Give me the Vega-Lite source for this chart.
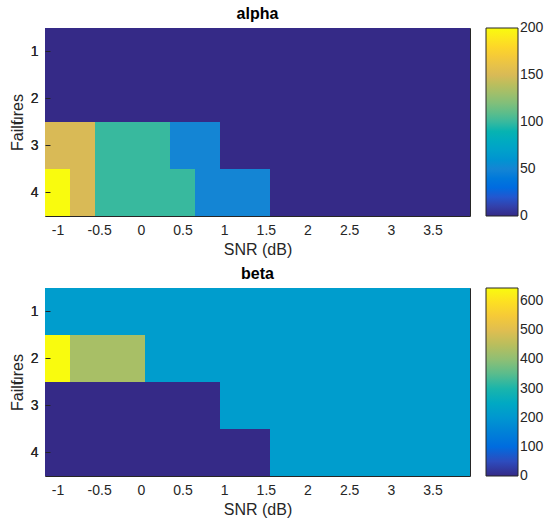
{
  "$schema": "https://vega.github.io/schema/vega-lite/v6.json",
  "padding": {"left": 8, "top": 5, "right": 5, "bottom": 5},
  "background": "white",
  "datasets": {
    "cells": [
      {"s": -1.0, "f": 1, "alpha": 0, "beta": 215}, {"s": -0.7, "f": 1, "alpha": 0, "beta": 215}, {"s": -0.4, "f": 1, "alpha": 0, "beta": 215}, {"s": -0.1, "f": 1, "alpha": 0, "beta": 215},
      {"s": 0.2, "f": 1, "alpha": 0, "beta": 215}, {"s": 0.5, "f": 1, "alpha": 0, "beta": 215}, {"s": 0.8, "f": 1, "alpha": 0, "beta": 215}, {"s": 1.1, "f": 1, "alpha": 0, "beta": 215},
      {"s": 1.4, "f": 1, "alpha": 0, "beta": 215}, {"s": 1.7, "f": 1, "alpha": 0, "beta": 215}, {"s": 2.0, "f": 1, "alpha": 0, "beta": 215}, {"s": 2.3, "f": 1, "alpha": 0, "beta": 215},
      {"s": 2.6, "f": 1, "alpha": 0, "beta": 215}, {"s": 2.9, "f": 1, "alpha": 0, "beta": 215}, {"s": 3.2, "f": 1, "alpha": 0, "beta": 215}, {"s": 3.5, "f": 1, "alpha": 0, "beta": 215},
      {"s": 3.8, "f": 1, "alpha": 0, "beta": 215},
      {"s": -1.0, "f": 2, "alpha": 0, "beta": 645}, {"s": -0.7, "f": 2, "alpha": 0, "beta": 430}, {"s": -0.4, "f": 2, "alpha": 0, "beta": 430}, {"s": -0.1, "f": 2, "alpha": 0, "beta": 430},
      {"s": 0.2, "f": 2, "alpha": 0, "beta": 215}, {"s": 0.5, "f": 2, "alpha": 0, "beta": 215}, {"s": 0.8, "f": 2, "alpha": 0, "beta": 215}, {"s": 1.1, "f": 2, "alpha": 0, "beta": 215},
      {"s": 1.4, "f": 2, "alpha": 0, "beta": 215}, {"s": 1.7, "f": 2, "alpha": 0, "beta": 215}, {"s": 2.0, "f": 2, "alpha": 0, "beta": 215}, {"s": 2.3, "f": 2, "alpha": 0, "beta": 215},
      {"s": 2.6, "f": 2, "alpha": 0, "beta": 215}, {"s": 2.9, "f": 2, "alpha": 0, "beta": 215}, {"s": 3.2, "f": 2, "alpha": 0, "beta": 215}, {"s": 3.5, "f": 2, "alpha": 0, "beta": 215},
      {"s": 3.8, "f": 2, "alpha": 0, "beta": 215},
      {"s": -1.0, "f": 3, "alpha": 150, "beta": 0}, {"s": -0.7, "f": 3, "alpha": 150, "beta": 0}, {"s": -0.4, "f": 3, "alpha": 100, "beta": 0}, {"s": -0.1, "f": 3, "alpha": 100, "beta": 0},
      {"s": 0.2, "f": 3, "alpha": 100, "beta": 0}, {"s": 0.5, "f": 3, "alpha": 50, "beta": 0}, {"s": 0.8, "f": 3, "alpha": 50, "beta": 0}, {"s": 1.1, "f": 3, "alpha": 0, "beta": 215},
      {"s": 1.4, "f": 3, "alpha": 0, "beta": 215}, {"s": 1.7, "f": 3, "alpha": 0, "beta": 215}, {"s": 2.0, "f": 3, "alpha": 0, "beta": 215}, {"s": 2.3, "f": 3, "alpha": 0, "beta": 215},
      {"s": 2.6, "f": 3, "alpha": 0, "beta": 215}, {"s": 2.9, "f": 3, "alpha": 0, "beta": 215}, {"s": 3.2, "f": 3, "alpha": 0, "beta": 215}, {"s": 3.5, "f": 3, "alpha": 0, "beta": 215},
      {"s": 3.8, "f": 3, "alpha": 0, "beta": 215},
      {"s": -1.0, "f": 4, "alpha": 200, "beta": 0}, {"s": -0.7, "f": 4, "alpha": 150, "beta": 0}, {"s": -0.4, "f": 4, "alpha": 100, "beta": 0}, {"s": -0.1, "f": 4, "alpha": 100, "beta": 0},
      {"s": 0.2, "f": 4, "alpha": 100, "beta": 0}, {"s": 0.5, "f": 4, "alpha": 100, "beta": 0}, {"s": 0.8, "f": 4, "alpha": 50, "beta": 0}, {"s": 1.1, "f": 4, "alpha": 50, "beta": 0},
      {"s": 1.4, "f": 4, "alpha": 50, "beta": 0}, {"s": 1.7, "f": 4, "alpha": 0, "beta": 215}, {"s": 2.0, "f": 4, "alpha": 0, "beta": 215}, {"s": 2.3, "f": 4, "alpha": 0, "beta": 215},
      {"s": 2.6, "f": 4, "alpha": 0, "beta": 215}, {"s": 2.9, "f": 4, "alpha": 0, "beta": 215}, {"s": 3.2, "f": 4, "alpha": 0, "beta": 215}, {"s": 3.5, "f": 4, "alpha": 0, "beta": 215},
      {"s": 3.8, "f": 4, "alpha": 0, "beta": 215}
    ]
  },
  "vconcat": [
    {
      "title": {"text": "alpha"},
      "width": 425,
      "height": 188,
      "data": {"name": "cells"},
      "layer": [
        {
          "mark": {"type": "rect"},
          "encoding": {
            "x": {"field": "s", "type": "ordinal", "axis": null, "scale": {"paddingInner": 0, "paddingOuter": 0}},
            "y": {"field": "f", "type": "ordinal", "title": "Failures", "scale": {"paddingInner": 0, "paddingOuter": 0}, "axis": {"orient": "left"}},
            "color": {"field": "alpha", "type": "quantitative", "title": null,
              "scale": {"domain": [0, 25, 50, 75, 100, 125, 150, 175, 200], "range": ["#352a87", "#0363e1", "#1485d4", "#06a7c6", "#38b99e", "#92bf73", "#d9ba56", "#fcce2e", "#f9fb0e"]},
              "legend": {"values": [0, 50, 100, 150, 200], "encode": {"labels": {"update": {"baseline": {"value": "middle"}}}}}}
          }
        },
        {
          "mark": {"type": "point", "opacity": 0},
          "encoding": {
            "x": {"field": "s", "type": "quantitative", "title": "SNR (dB)", "scale": {"domain": [-1.15, 3.95], "nice": false, "zero": false},
              "axis": {"orient": "bottom", "values": [-1, -0.5, 0, 0.5, 1, 1.5, 2, 2.5, 3, 3.5], "labelExpr": "toString(datum.value)"}},
            "y": {"field": "f", "type": "ordinal", "axis": {"orient": "right", "labels": false, "title": null}}
          }
        },
        {
          "mark": {"type": "point", "opacity": 0},
          "encoding": {
            "x": {"field": "s", "type": "quantitative", "scale": {"domain": [-1.15, 3.95], "nice": false, "zero": false},
              "axis": {"orient": "top", "values": [-1, -0.5, 0, 0.5, 1, 1.5, 2, 2.5, 3, 3.5], "labels": false, "title": null}},
            "y": {"field": "f", "type": "ordinal"}
          }
        }
      ],
      "resolve": {"scale": {"x": "independent"}, "axis": {"x": "independent", "y": "independent"}}
    },
    {
      "title": {"text": "beta"},
      "width": 425,
      "height": 188,
      "data": {"name": "cells"},
      "layer": [
        {
          "mark": {"type": "rect"},
          "encoding": {
            "x": {"field": "s", "type": "ordinal", "axis": null, "scale": {"paddingInner": 0, "paddingOuter": 0}},
            "y": {"field": "f", "type": "ordinal", "title": "Failures", "scale": {"paddingInner": 0, "paddingOuter": 0}, "axis": {"orient": "left"}},
            "color": {"field": "beta", "type": "quantitative", "title": null,
              "scale": {"domain": [0, 80.625, 161.25, 241.875, 322.5, 403.125, 483.75, 564.375, 645], "range": ["#352a87", "#0363e1", "#1485d4", "#06a7c6", "#38b99e", "#92bf73", "#d9ba56", "#fcce2e", "#f9fb0e"]},
              "legend": {"values": [0, 100, 200, 300, 400, 500, 600], "encode": {"labels": {"update": {"baseline": {"value": "middle"}}}}}}
          }
        },
        {
          "mark": {"type": "point", "opacity": 0},
          "encoding": {
            "x": {"field": "s", "type": "quantitative", "title": "SNR (dB)", "scale": {"domain": [-1.15, 3.95], "nice": false, "zero": false},
              "axis": {"orient": "bottom", "values": [-1, -0.5, 0, 0.5, 1, 1.5, 2, 2.5, 3, 3.5], "labelExpr": "toString(datum.value)"}},
            "y": {"field": "f", "type": "ordinal", "axis": {"orient": "right", "labels": false, "title": null}}
          }
        },
        {
          "mark": {"type": "point", "opacity": 0},
          "encoding": {
            "x": {"field": "s", "type": "quantitative", "scale": {"domain": [-1.15, 3.95], "nice": false, "zero": false},
              "axis": {"orient": "top", "values": [-1, -0.5, 0, 0.5, 1, 1.5, 2, 2.5, 3, 3.5], "labels": false, "title": null}},
            "y": {"field": "f", "type": "ordinal"}
          }
        }
      ],
      "resolve": {"scale": {"x": "independent"}, "axis": {"x": "independent", "y": "independent"}}
    }
  ],
  "resolve": {"scale": {"color": "independent"}, "legend": {"color": "independent"}},
  "spacing": 7,
  "config": {
    "font": "Liberation Sans",
    "view": {"stroke": "#262626", "strokeWidth": 1},
    "axis": {
      "domain": false,
      "grid": false,
      "ticks": true,
      "tickSize": -5,
      "tickColor": "#262626",
      "tickWidth": 1,
      "labelFont": "Liberation Sans",
      "labelFontSize": 14,
      "labelColor": "#262626",
      "labelPadding": 12,
      "titleFont": "Liberation Sans",
      "titleFontSize": 16,
      "titleFontWeight": "normal",
      "titleColor": "#262626",
      "labelAngle": 0
    },
    "axisY": {"titlePadding": 5},
    "axisX": {"titlePadding": 4},
    "title": {"font": "Liberation Sans", "fontSize": 16, "fontWeight": "bold", "color": "#000000", "offset": 6},
    "legend": {
      "orient": "right",
      "offset": 15,
      "gradientLength": 188,
      "gradientThickness": 32,
      "gradientStrokeColor": "#262626",
      "gradientStrokeWidth": 1,
      "labelFont": "Liberation Sans",
      "labelFontSize": 14,
      "labelColor": "#262626",
      "labelOffset": 5,
      "labelOverlap": false,
      "padding": 0
    }
  }
}
